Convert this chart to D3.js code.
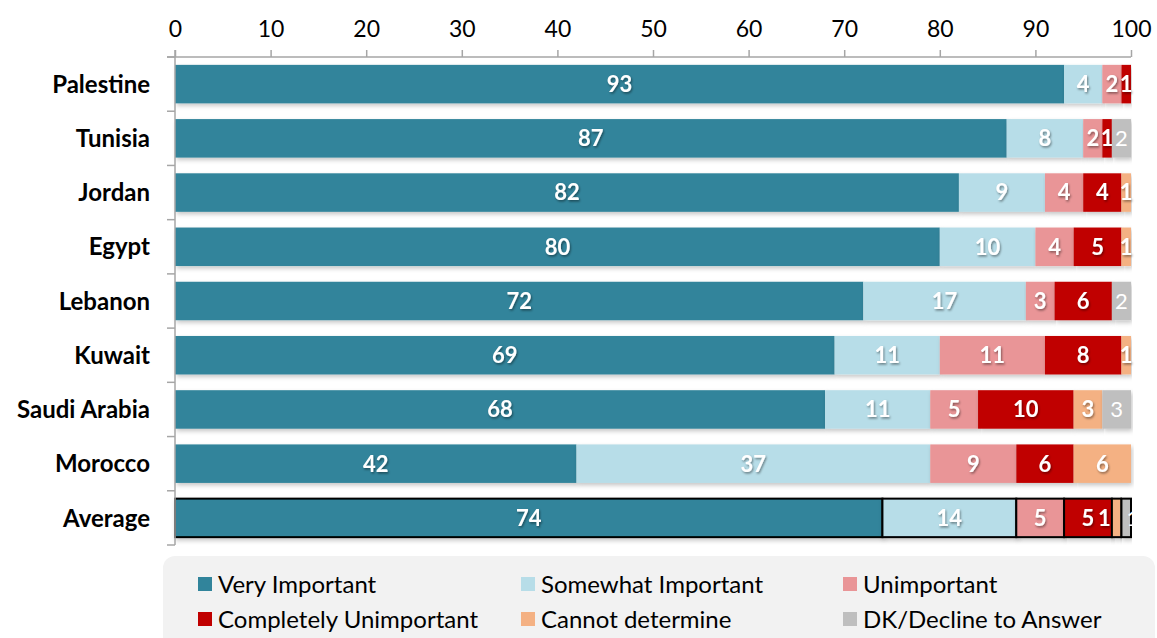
<!DOCTYPE html>
<html>
<head>
<meta charset="utf-8">
<script src="https://cdn.jsdelivr.net/npm/d3@7"></script>
<style>
  html, body { margin: 0; padding: 0; background: #ffffff; }
  svg { display: block; }
</style>
</head>
<body>
<svg id="chart" width="1157" height="638"></svg>
<script>
// Countries, top to bottom
const countries = ["Palestine", "Tunisia", "Jordan", "Egypt", "Lebanon", "Kuwait", "Saudi Arabia", "Morocco", "Average"];

// Response categories and colours
const seriesNames = ["Very Important", "Somewhat Important", "Unimportant", "Completely Unimportant", "Cannot determine", "DK/Decline to Answer"];
const seriesColors = ["#31849b", "#b7dde8", "#e99597", "#c00000", "#f4b183", "#bfbfbf"];

// Percentages per category, in the same order as countries
const veryImportant       = [93, 87, 82, 80, 72, 69, 68, 42, 74];
const somewhatImportant   = [4, 8, 9, 10, 17, 11, 11, 37, 14];
const unimportant         = [2, 2, 4, 4, 3, 11, 5, 9, 5];
const completelyUnimp     = [1, 1, 4, 5, 6, 8, 10, 6, 5];
const cannotDetermine     = [0, 0, 1, 1, 0, 1, 3, 6, 1];
const declineToAnswer     = [0, 2, 0, 0, 2, 0, 3, 0, 1];

const xTicks = [0, 10, 20, 30, 40, 50, 60, 70, 80, 90, 100];

const seriesValues = [veryImportant, somewhatImportant, unimportant, completelyUnimp, cannotDetermine, declineToAnswer];

const rows = countries.map((c, i) => {
  const r = { country: c };
  seriesNames.forEach((s, k) => { r[s] = seriesValues[k][i]; });
  return r;
});

const stacked = d3.stack().keys(seriesNames)(rows);

const svg = d3.select("#chart");

const x = d3.scaleLinear().domain([0, 100]).range([175, 1131]);
const y = d3.scaleBand().domain(countries).range([57, 545]).paddingInner(0.29).paddingOuter(0.145);

// soft shadow under the bars
const defs = svg.append("defs");
const f = defs.append("filter").attr("id", "shadow").attr("x", "-5%").attr("y", "-30%").attr("width", "110%").attr("height", "170%");
f.append("feDropShadow").attr("dx", 1.5).attr("dy", 2.5).attr("stdDeviation", 2).attr("flood-color", "#000").attr("flood-opacity", 0.22);

const txtShadow = defs.append("filter").attr("id", "tshadow").attr("x", "-30%").attr("y", "-30%").attr("width", "160%").attr("height", "160%");
txtShadow.append("feDropShadow").attr("dx", 1).attr("dy", 1.5).attr("stdDeviation", 1).attr("flood-color", "#000").attr("flood-opacity", 0.45);

// bars
const layers = svg.append("g").selectAll("g")
  .data(stacked)
  .join("g")
  .attr("fill", (d, i) => seriesColors[i]);

layers.selectAll("rect")
  .data(d => d.map(v => ({ v, key: d.key })))
  .join("rect")
  .attr("x", d => x(d.v[0]))
  .attr("y", d => y(d.v.data.country))
  .attr("width", d => Math.max(0, x(d.v[1]) - x(d.v[0])))
  .attr("height", y.bandwidth())
  .attr("filter", "url(#shadow)")
  .attr("stroke", d => d.v.data.country === "Average" ? "#000" : "none")
  .attr("stroke-width", d => d.v.data.country === "Average" ? 2 : 0);

// value labels; the two thin slivers of the Average bar get nudged apart
function labelX(d) {
  if (d.v.data.country === "Average" && d.key === "Cannot determine") return x(d.v[0]) - 1;
  if (d.v.data.country === "Average" && d.key === "DK/Decline to Answer") return x(d.v[0]) + 5;
  return (x(d.v[0]) + x(d.v[1])) / 2;
}
function labelAnchor(d) {
  if (d.v.data.country === "Average" && d.key === "Cannot determine") return "end";
  if (d.v.data.country === "Average" && d.key === "DK/Decline to Answer") return "start";
  return "middle";
}

const labelFont = "Lato, 'Open Sans', 'DejaVu Sans', sans-serif";
layers.selectAll("text")
  .data(d => d.map(v => ({ v, key: d.key })).filter(d => d.v[1] - d.v[0] > 0))
  .join("text")
  .attr("x", labelX)
  .attr("y", d => y(d.v.data.country) + y.bandwidth() / 2)
  .attr("dy", "0.36em")
  .attr("text-anchor", labelAnchor)
  .attr("fill", "#ffffff")
  .attr("font-family", labelFont)
  .attr("font-size", 22)
  .attr("font-weight", d => d.key === "DK/Decline to Answer" ? 400 : 700)
  .attr("filter", d => d.key === "DK/Decline to Answer" ? null : "url(#tshadow)")
  .text(d => d.v[1] - d.v[0]);

// top axis
const axisColor = "#a6a6a6";
const xAxis = svg.append("g")
  .attr("transform", "translate(0,57)")
  .call(d3.axisTop(x).tickValues(xTicks).tickSize(7).tickPadding(13).tickFormat(d3.format("d")));
xAxis.select(".domain").attr("stroke", axisColor).attr("stroke-width", 1.5).attr("d", `M${x(0) - 8},0H${x(100)}`);
xAxis.selectAll(".tick line").attr("stroke", axisColor).attr("stroke-width", 1.5);
xAxis.selectAll(".tick text")
  .attr("fill", "#000")
  .attr("font-family", labelFont)
  .attr("font-size", 23);

// left axis with ticks between categories
const leftAxis = svg.append("g");
leftAxis.append("line")
  .attr("x1", x(0)).attr("x2", x(0))
  .attr("y1", 50).attr("y2", 545)
  .attr("stroke", axisColor).attr("stroke-width", 1.5);
const boundaries = countries.map(c => y(c) - y.step() * y.paddingInner() / 2).concat([545]);
boundaries[0] = 57;
leftAxis.selectAll("line.tick")
  .data(boundaries)
  .join("line")
  .attr("class", "tick")
  .attr("x1", x(0) - 8).attr("x2", x(0))
  .attr("y1", d => d).attr("y2", d => d)
  .attr("stroke", axisColor).attr("stroke-width", 1.5);

// category labels
svg.append("g").selectAll("text")
  .data(countries)
  .join("text")
  .attr("x", 150)
  .attr("y", d => y(d) + y.bandwidth() / 2)
  .attr("dy", "0.36em")
  .attr("text-anchor", "end")
  .attr("font-family", labelFont)
  .attr("font-weight", 700)
  .attr("font-size", 24)
  .attr("fill", "#000")
  .text(d => d);

// legend
const legend = svg.append("g");
legend.append("rect")
  .attr("x", 163).attr("y", 556)
  .attr("width", 992).attr("height", 100)
  .attr("rx", 12)
  .attr("fill", "#f2f2f2");

const legendCols = [198, 521, 843];
const legendRows = [584, 619];
const items = legend.selectAll("g.item")
  .data(seriesNames)
  .join("g")
  .attr("class", "item")
  .attr("transform", (d, i) => `translate(${legendCols[i % 3]},${legendRows[Math.floor(i / 3)]})`);
items.append("rect")
  .attr("x", 0).attr("y", -7)
  .attr("width", 14).attr("height", 14)
  .attr("fill", (d, i) => seriesColors[i]);
items.append("text")
  .attr("x", 20)
  .attr("dy", "0.36em")
  .attr("font-family", labelFont)
  .attr("font-size", 24)
  .attr("fill", "#000")
  .text(d => d);
</script>
</body>
</html>
